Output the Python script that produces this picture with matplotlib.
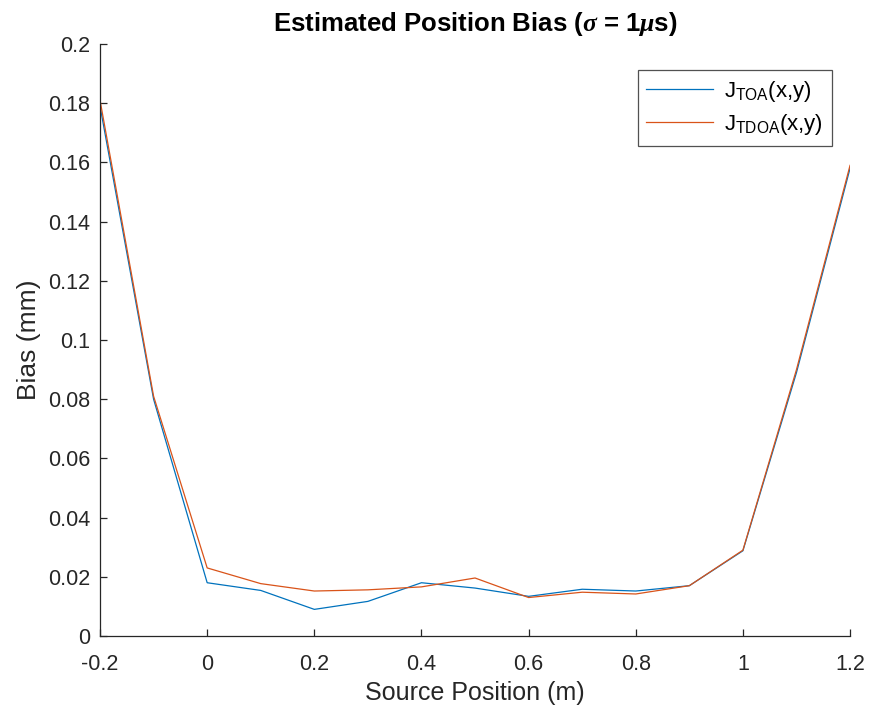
import matplotlib.pyplot as plt

plt.rcParams['font.family'] = ['Liberation Sans', 'DejaVu Sans']
plt.rcParams['mathtext.fontset'] = 'custom'
plt.rcParams['mathtext.rm'] = 'Liberation Sans'
plt.rcParams['mathtext.it'] = 'Liberation Serif:italic'
plt.rcParams['mathtext.bf'] = 'Liberation Serif:bold:italic'

# Source positions (m) and bias (mm)
positions = [-0.2, -0.1, 0.0, 0.1, 0.2, 0.3, 0.4, 0.5, 0.6, 0.7, 0.8, 0.9, 1.0, 1.1, 1.2]
bias_toa = [0.179, 0.080, 0.018, 0.0154, 0.0090, 0.0117, 0.0180, 0.0162, 0.0134,
            0.0158, 0.0152, 0.0170, 0.0288, 0.089, 0.158]
bias_tdoa = [0.181, 0.081, 0.023, 0.0177, 0.0152, 0.0156, 0.0166, 0.0196, 0.0130,
             0.0148, 0.0142, 0.0170, 0.0290, 0.090, 0.159]

xticks = [-0.2, 0, 0.2, 0.4, 0.6, 0.8, 1, 1.2]
xtick_labels = ['-0.2', '0', '0.2', '0.4', '0.6', '0.8', '1', '1.2']
yticks = [0, 0.02, 0.04, 0.06, 0.08, 0.1, 0.12, 0.14, 0.16, 0.18, 0.2]
ytick_labels = ['0', '0.02', '0.04', '0.06', '0.08', '0.1', '0.12', '0.14', '0.16', '0.18', '0.2']

fig = plt.figure(figsize=(8.69, 7.07), dpi=100)
ax = fig.add_axes([0.1151, 0.1004, 0.8631, 0.8374])

axis_color = '#262626'
ax.plot(positions, bias_toa, color='#0072BD', lw=0.9, label=r'J$_{\mathregular{TOA}}$(x,y)')
ax.plot(positions, bias_tdoa, color='#D95319', lw=0.9, label=r'J$_{\mathregular{TDOA}}$(x,y)')

ax.set_xlim(-0.2, 1.2)
ax.set_ylim(0, 0.2)
ax.set_xticks(xticks)
ax.set_xticklabels(xtick_labels)
ax.set_yticks(yticks)
ax.set_yticklabels(ytick_labels)

for side in ['top', 'right']:
    ax.spines[side].set_visible(False)
for side in ['left', 'bottom']:
    ax.spines[side].set_color(axis_color)
    ax.spines[side].set_linewidth(0.9)
ax.tick_params(direction='in', length=5, width=0.9, colors=axis_color,
               labelsize=15.5)
ax.tick_params(axis='x', pad=13)
ax.tick_params(axis='y', pad=7)

ax.set_xlabel('Source Position (m)', fontsize=18, color=axis_color, labelpad=4)
ax.set_ylabel('Bias (mm)', fontsize=19, color=axis_color, labelpad=5)
ax.set_title(r'Estimated Position Bias ($\mathbf{\sigma}$ = 1$\mathbf{\mu}$s)', fontsize=18.5,
             fontweight='bold', pad=9)

leg = ax.legend(loc='upper right', bbox_to_anchor=(0.976, 0.956), fontsize=16,
                frameon=True, fancybox=False, edgecolor=axis_color,
                handlelength=3.0, handletextpad=0.5, borderaxespad=0.0,
                labelspacing=0.35, borderpad=0.4)
leg.get_frame().set_linewidth(0.9)

plt.savefig('out.png', dpi=100)
plt.close()
